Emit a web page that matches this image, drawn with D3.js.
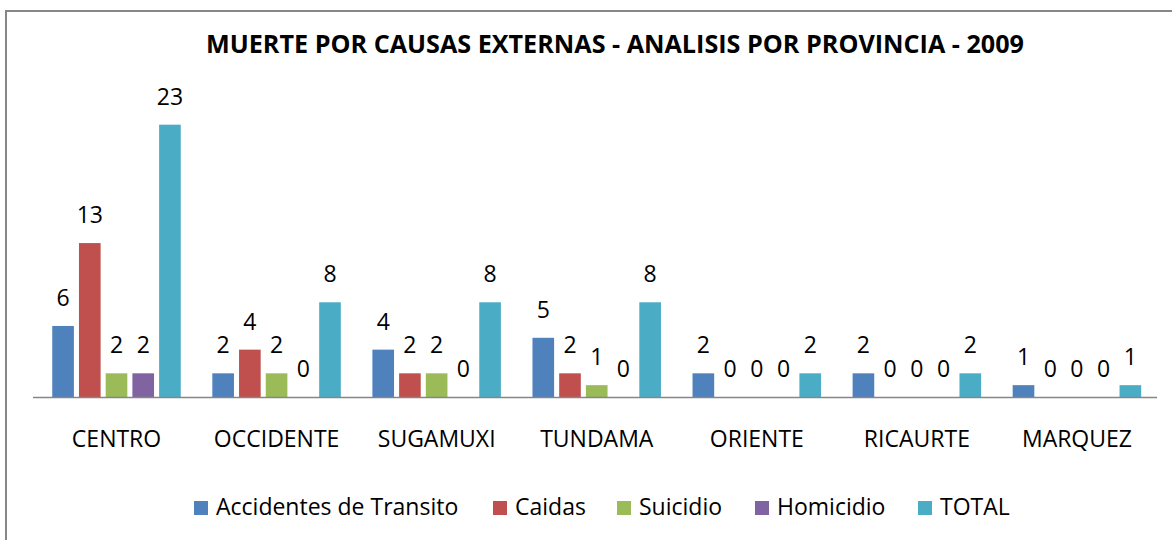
<!DOCTYPE html>
<html><head><meta charset="utf-8">
<script src="https://cdn.jsdelivr.net/npm/d3@7"></script>
<style>html,body{margin:0;padding:0;background:#fff;}svg{display:block;}</style>
</head><body>
<svg id="chart" width="1172" height="540"></svg>
<script>
const title = "MUERTE POR CAUSAS EXTERNAS - ANALISIS POR PROVINCIA - 2009";
const categories = ["CENTRO","OCCIDENTE","SUGAMUXI","TUNDAMA","ORIENTE","RICAURTE","MARQUEZ"];
const seriesNames = ["Accidentes de Transito","Caidas","Suicidio","Homicidio","TOTAL"];
const accidentes = [6,2,4,5,2,2,1];
const caidas = [13,4,2,2,0,0,0];
const suicidio = [2,2,2,1,0,0,0];
const homicidio = [2,0,0,0,0,0,0];
const total = [23,8,8,8,2,2,1];
const colors = ["#4F81BD","#C0504D","#9BBB59","#8064A2","#4BACC6"];

const seriesValues = [accidentes, caidas, suicidio, homicidio, total];
const svg = d3.select("#chart");
const font = "'Open Sans', 'Noto Sans', sans-serif";
const fs = 23;

// outer border
svg.append("rect").attr("x",6).attr("y",11).attr("width",1180).attr("height",560)
  .attr("fill","#fff").attr("stroke","#878787").attr("stroke-width",2);

// title
svg.append("text").attr("x",615).attr("y",53).attr("text-anchor","middle")
  .attr("font-family",font).attr("font-weight","bold").attr("font-size",25)
  .attr("textLength",818).attr("lengthAdjust","spacingAndGlyphs")
  .attr("fill","#000").text(title);

const x0 = d3.scaleBand().domain(categories).range([36.5,1157]).paddingInner(0).paddingOuter(0);
const x1 = d3.scaleBand().domain(seriesNames).range([15.75, 144.25]).paddingInner(0.19).paddingOuter(0);
const y = d3.scaleLinear().domain([0,25]).range([397,101]);

const data = [];
categories.forEach((c,i)=>{
  seriesNames.forEach((s,j)=>{ data.push({cat:c, ser:s, v:seriesValues[j][i], color:colors[j]}); });
});

const g = svg.append("g");
g.selectAll("rect.bar").data(data).enter().append("rect").attr("class","bar")
  .attr("x",d=>x0(d.cat)+x1(d.ser)).attr("width",x1.bandwidth())
  .attr("y",d=>y(d.v)).attr("height",d=>y(0)-y(d.v)).attr("fill",d=>d.color);

// baseline axis
const xAxis = d3.axisBottom(x0).tickSize(0).tickPadding(0);
const ax = svg.append("g").attr("transform",`translate(0,${y(0)})`).call(xAxis);
ax.select(".domain").attr("d","M33,0.5H1157").attr("stroke","#868686").attr("stroke-width",1.3);
ax.selectAll(".tick text").attr("font-family",font).attr("font-size",fs).attr("fill","#000")
  .attr("dy",null).attr("y",50);

// value labels
g.selectAll("text.val").data(data).enter().append("text").attr("class","val")
  .attr("x",d=>x0(d.cat)+x1(d.ser)+x1.bandwidth()/2)
  .attr("y",d=>y(d.v)-20).attr("text-anchor","middle")
  .attr("font-family",font).attr("font-size",fs).attr("fill","#000").text(d=>d.v);

// legend
const legendX = [194,493,617,755,918];
const lg = svg.append("g");
seriesNames.forEach((s,j)=>{
  lg.append("rect").attr("x",legendX[j]).attr("y",501).attr("width",14).attr("height",14).attr("fill",colors[j]);
  lg.append("text").attr("x",legendX[j]+22).attr("y",515).attr("font-family",font).attr("font-size",fs)
    .attr("fill","#000").text(s);
});
</script>
</body></html>
